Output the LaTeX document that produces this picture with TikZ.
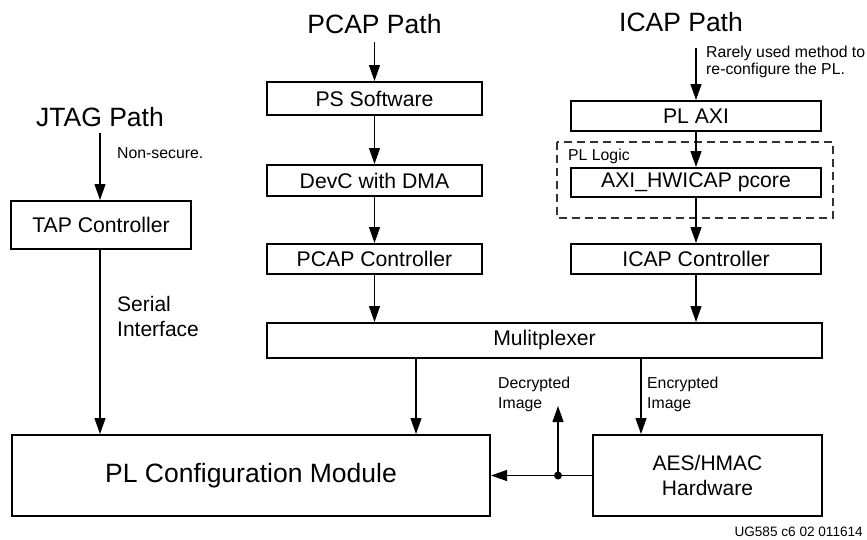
\documentclass[tikz,border=0pt]{standalone}
\usepackage{fontspec}
\setmainfont{Liberation Sans}
\usetikzlibrary{arrows.meta,calc}
\begin{document}
\begin{tikzpicture}[x=1pt,y=-1pt,
  box/.style={draw,line width=2pt,inner sep=0pt,font=\fontsize{21.2}{25}\selectfont},
  arr/.style={line width=1.1pt,-{Triangle[length=16pt,width=11pt]}},
  title/.style={font=\fontsize{26.5}{30}\selectfont},
  small/.style={font=\fontsize{15.8}{19}\selectfont,align=left,inner sep=0pt}]
\useasboundingbox (0,0) rectangle (867,539);
% dashed PL logic region
\draw[line width=1.1pt,dash pattern=on 8pt off 5pt,black!80] (557,142) rectangle (833,218);
% titles
\node[title] (jtag) at (100,117) {JTAG Path};
\node[title] (pcap) at (374.5,24) {PCAP Path};
\node[title] (icap) at (681,22) {ICAP Path};
\coordinate (jtagS) at (100,133);
\coordinate (pcapS) at (374.5,42);
\coordinate (icapS) at (696,48);
% boxes
\node[box,minimum width=180pt,minimum height=48pt] (tap) at (101,225) {TAP Controller};
\node[box,minimum width=478pt,minimum height=81pt,font=\fontsize{26.5}{30}\selectfont] (pcfg) at (251,475.5) {PL Configuration Module};
\node[box,minimum width=215pt,minimum height=33pt] (ps) at (374.5,98.5) {PS Software};
\node[box,minimum width=215pt,minimum height=31pt] (devc) at (374.5,180.5) {DevC with DMA};
\node[box,minimum width=215pt,minimum height=30pt] (pcapc) at (374.5,259) {PCAP Controller};
\node[box,minimum width=250pt,minimum height=30pt] (plaxi) at (696,116) {PL AXI};
\node[box,minimum width=250pt,minimum height=29pt] (axih) at (696,182.5) {AXI\_HWICAP pcore};
\node[box,minimum width=250pt,minimum height=30pt] (icapc) at (696,259) {ICAP Controller};
\node[box,minimum width=555pt,minimum height=35pt] (mux) at (544.5,340.5) {Mulitplexer};
\node[box,minimum width=229pt,minimum height=81pt,align=center,font=\fontsize{21}{25}\selectfont] (aes) at (707.5,475.5) {AES/HMAC\\Hardware};
% labels
\node[small,anchor=west] (nonsec) at (117,153) {Non-secure.};
\node[small,anchor=west,font=\fontsize{21}{25}\selectfont] (serial) at (117,316) {Serial\\Interface};
\node[small,anchor=west,font=\fontsize{15.8}{17}\selectfont] (rarely) at (706,62) {Rarely used method to\\re-configure the PL.};
\node[small,anchor=west] (pllogic) at (568,156) {PL Logic};
\node[small,anchor=west,font=\fontsize{15.8}{20}\selectfont] (decr) at (498,394) {Decrypted\\Image};
\node[small,anchor=west,font=\fontsize{15.8}{20}\selectfont] (encr) at (647,394) {Encrypted\\Image};
\node[small,anchor=east,font=\fontsize{13.6}{16}\selectfont] (ug) at (863,532) {UG585 c6 02 011614};
% connectors
\draw[arr] (jtagS) -- (jtagS |- tap.north);
\draw[arr] (tap.south -| jtagS) -- (jtagS |- pcfg.north);
\draw[arr] (pcapS) -- (ps.north);
\draw[arr] (ps) -- (devc.north);
\draw[arr] (devc) -- (pcapc.north);
\draw[arr] (pcapc) -- (pcapc.south |- mux.north);
\draw[arr] (icapS) -- (plaxi.north -| icapS);
\draw[arr] (plaxi.south -| icapS) -- (axih.north -| icapS);
\draw[arr] (axih.south -| icapS) -- (icapc.north -| icapS);
\draw[arr] (icapc.south -| icapS) -- (mux.north -| icapS);
\coordinate (m1) at (416,358);
\coordinate (m2) at (641,358);
\draw[arr] (m1) -- (m1 |- pcfg.north);
\draw[arr] (m2) -- (m2 |- aes.north);
\draw[arr] (aes.west) -- (pcfg.east);
\coordinate (dot) at (558,475.5);
\fill (dot) circle (4pt);
\coordinate (up) at (558,406);
\draw[arr] (dot) -- (up);
\end{tikzpicture}
\end{document}
